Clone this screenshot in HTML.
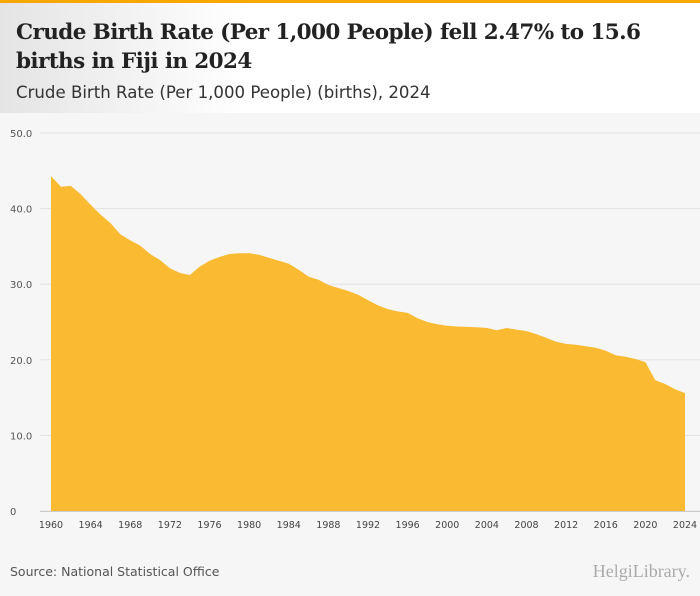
<!DOCTYPE html>
<html><head><meta charset="utf-8"><style>
body{margin:0;width:700px;height:596px;overflow:hidden;background:#f6f6f6;font-family:"DejaVu Sans",sans-serif}
#hdr{position:absolute;left:0;top:0;width:700px;height:113px;background:linear-gradient(90deg,#e4e4e4 0,#fff 35%,#fff 100%);border-top:3px solid #f5a800;box-sizing:border-box}
#title{position:absolute;left:16px;top:15px;font-family:"DejaVu Serif",serif;font-weight:bold;font-size:21.5px;letter-spacing:-0.6px;line-height:29px;color:#222;width:684px;white-space:nowrap}
#sub{position:absolute;left:16px;top:80px;font-size:16.6px;color:#333}
#src{position:absolute;left:10px;top:564px;font-size:12.5px;color:#555}
#logo{position:absolute;right:10px;top:561px;font-size:18px;color:#aaa;font-family:"Liberation Serif",serif}
</style></head><body>
<div id="hdr">
<div id="title">Crude Birth Rate (Per 1,000 People) fell 2.47% to 15.6<br>births in Fiji in 2024</div>
<div id="sub">Crude Birth Rate (Per 1,000 People) (births), 2024</div>
</div>
<svg id="chart" width="700" height="596" style="position:absolute;left:0;top:0"></svg>
<div id="src">Source: National Statistical Office</div>
<div id="logo">HelgiLibrary.</div>
<script>
const years=[];for(let y=1960;y<=2024;y++)years.push(y);
const values=[44.3,42.9,43.0,41.9,40.5,39.2,38.1,36.6,35.8,35.1,34.0,33.2,32.1,31.5,31.2,32.3,33.1,33.6,34.0,34.1,34.1,33.9,33.5,33.1,32.7,31.9,31.0,30.6,29.9,29.5,29.1,28.6,27.9,27.2,26.7,26.4,26.2,25.5,25.0,24.7,24.5,24.4,24.35,24.3,24.2,23.9,24.2,24.0,23.8,23.4,22.9,22.4,22.1,22.0,21.8,21.6,21.2,20.6,20.4,20.1,19.7,17.3,16.8,16.1,15.6];
const yTicks=[0,10,20,30,40,50];
const yTickLabels=["0","10.0","20.0","30.0","40.0","50.0"];
const xTicks=[1960,1964,1968,1972,1976,1980,1984,1988,1992,1996,2000,2004,2008,2012,2016,2020,2024];
const NS="http://www.w3.org/2000/svg",svg=document.getElementById('chart');
const X=y=>51+(y-1960)*(685-51)/64, Y=v=>511-v*(511-133)/50;
function mk(t,a){const e=document.createElementNS(NS,t);for(const k in a)e.setAttribute(k,a[k]);svg.appendChild(e);return e;}
yTicks.forEach((t,i)=>{
 const l=mk('line',{x1:40,x2:700,y1:Y(t),y2:Y(t),stroke:'#e2e2e2','stroke-width':1});
 
 
 const tx=mk('text',{x:10,y:Y(t)+4,'font-size':10,fill:'#555','font-family':'DejaVu Sans, sans-serif'});
 tx.textContent=yTickLabels[i];
 
 
});
let d='M'+X(years[0])+','+Y(0);
years.forEach((y,i)=>{d+=' L'+X(y).toFixed(1)+','+Y(values[i]).toFixed(1);});
d+=' L'+X(years[years.length-1])+','+Y(0)+' Z';
const a=mk('path',{d:d,fill:'#fabb32'});


mk('line',{x1:40,x2:700,y1:Y(0)+0.5,y2:Y(0)+0.5,stroke:'#ccc'});
xTicks.forEach(t=>{
 const tx=mk('text',{x:X(t),y:528,'font-size':9.5,fill:'#444','text-anchor':'middle','font-family':'DejaVu Sans, sans-serif'});
 tx.textContent=t;
 
 
});
</script>
</body></html>
